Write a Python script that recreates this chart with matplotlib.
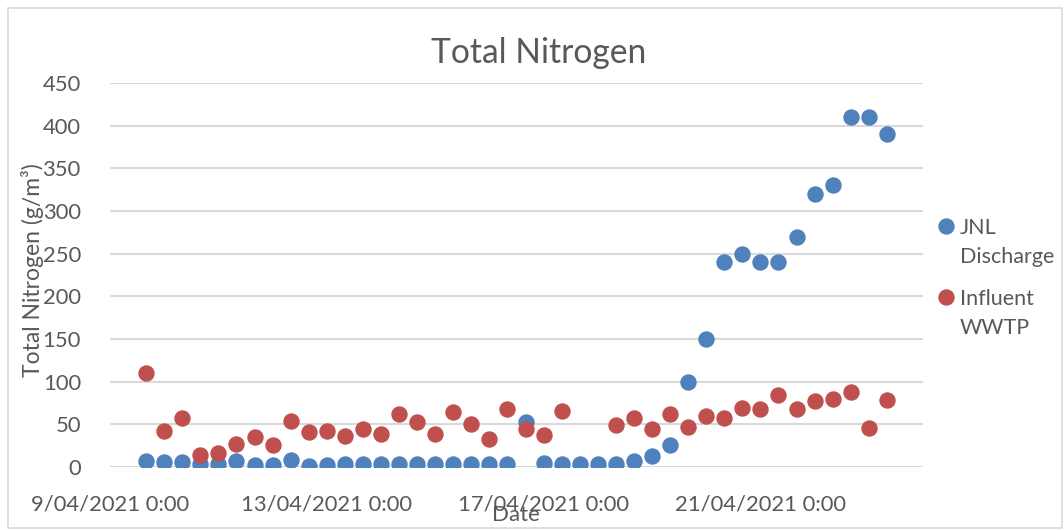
import matplotlib
matplotlib.use("Agg")
from matplotlib import pyplot as plt
from matplotlib.lines import Line2D
import matplotlib.dates as mdates
import pandas as pd
import numpy as np

# Fechas de muestreo (cada 8 horas)
fechas = [
    "2021-04-09 16:00", "2021-04-10 00:00", "2021-04-10 08:00", "2021-04-10 16:00",
    "2021-04-11 00:00", "2021-04-11 08:00", "2021-04-11 16:00", "2021-04-12 00:00",
    "2021-04-12 08:00", "2021-04-12 16:00", "2021-04-13 00:00", "2021-04-13 08:00",
    "2021-04-13 16:00", "2021-04-14 00:00", "2021-04-14 08:00", "2021-04-14 16:00",
    "2021-04-15 00:00", "2021-04-15 08:00", "2021-04-15 16:00", "2021-04-16 00:00",
    "2021-04-16 08:00", "2021-04-16 16:00", "2021-04-17 00:00", "2021-04-17 08:00",
    "2021-04-17 16:00", "2021-04-18 00:00", "2021-04-18 08:00", "2021-04-18 16:00",
    "2021-04-19 00:00", "2021-04-19 08:00", "2021-04-19 16:00", "2021-04-20 00:00",
    "2021-04-20 08:00", "2021-04-20 16:00", "2021-04-21 00:00", "2021-04-21 08:00",
    "2021-04-21 16:00", "2021-04-22 00:00", "2021-04-22 08:00", "2021-04-22 16:00",
    "2021-04-23 00:00", "2021-04-23 08:00",
]

# Nitrogeno total (g/m3)
jnl_discharge = [
    6.6, 5.4, 5.4, 4, 4, 6.6, 2.7, 2.7, 7.8, 1.5,
    2.7, 3.5, 3.5, 3.5, 3.5, 3.5, 3.5, 3.5, 3.5, 3.5,
    3.5, 53, 4.7, 3.5, 3.5, 3.9, 3.9, 6.6, 13, 26,
    100, 150, 240, 250, 240, 240, 270, 320, 330, 410,
    410, 390,
]
influent_wwtp = [
    110, 42, 58, 14, 16, 27, 35, 26, 54, 41,
    42, 36, 45, 39, 62, 53, 39, 64, 50, 33,
    68, 45, 38, 66, None, None, 49, 58, 44, 62,
    47, 60, 57, 69, 68, 84, 68, 77, 80, 88,
    46, 78,
]

series = [["JNL", "Discharge"], ["Influent", "WWTP"]]
colores = ["#4F81BD", "#C0504D"]
y_ticks = [0, 50, 100, 150, 200, 250, 300, 350, 400, 450]
x_ticks = ["2021-04-09", "2021-04-13", "2021-04-17", "2021-04-21"]

plt.rcParams['font.family'] = ['Lato', 'DejaVu Sans']
gris = "#595959"
W, H = 1064, 530

fig = plt.figure(figsize=(W / 100, H / 100), dpi=100)
ax = fig.add_axes([110 / W, 1 - 467 / H, 813 / W, 384 / H])

x = pd.to_datetime(fechas)
for valores, color in zip([jnl_discharge, influent_wwtp], colores):
    y = np.array([np.nan if v is None else v for v in valores], dtype=float)
    ax.plot(x, y, linestyle='none', marker='o', markersize=10.8,
            color=color, markeredgecolor=color, zorder=3)

ax.set_xlim(pd.Timestamp("2021-04-09"), pd.Timestamp("2021-04-24"))
ax.set_ylim(0, 450)
ax.set_yticks(y_ticks)
ax.set_xticks(pd.to_datetime(x_ticks))
ax.xaxis.set_major_formatter(plt.FuncFormatter(
    lambda v, p: (lambda d: f"{d.day}/{d.month:02d}/{d.year} {d.hour}:{d.minute:02d}")(mdates.num2date(v))))

ax.grid(axis='y', color="#D9D9D9", linewidth=1.5, zorder=0)
for s in ax.spines.values():
    s.set_visible(False)
ax.tick_params(axis='both', length=0, labelsize=15.8, labelcolor=gris)
ax.tick_params(axis='y', pad=21)
ax.tick_params(axis='x', pad=20)

# Titulos
fig.text(539 / W, 1 - 63 / H, "Total Nitrogen", fontsize=24.2, color=gris,
         ha='center', va='baseline')
fig.text(33 / W, 1 - 270 / H, "Total Nitrogen (g/m³)", fontsize=16.5, color=gris,
         rotation=90, ha='center', va='center')
fig.text(516 / W, 1 - 515 / H, "Date", fontsize=16, color=gris, ha='center', va='center')

# Leyenda (marcador alineado con la primera linea)
for (l1, l2), color, yc in zip(series, colores, [226, 297]):
    fig.add_artist(Line2D([946 / W], [1 - yc / H], transform=fig.transFigure,
                          linestyle='none', marker='o', markersize=10.8,
                          color=color, markeredgecolor=color))
    fig.text(960 / W, 1 - (yc + 8) / H, l1, fontsize=15.5, color=gris, va='baseline')
    fig.text(960 / W, 1 - (yc + 37) / H, l2, fontsize=15.5, color=gris, va='baseline')

# Borde del area del grafico
fig.patches.append(plt.Rectangle((8 / W, 2 / H), 1054 / W, 520 / H,
                                 transform=fig.transFigure, fill=False,
                                 edgecolor="#D9D9D9", linewidth=1.2))

fig.savefig("out.png", dpi=100)
